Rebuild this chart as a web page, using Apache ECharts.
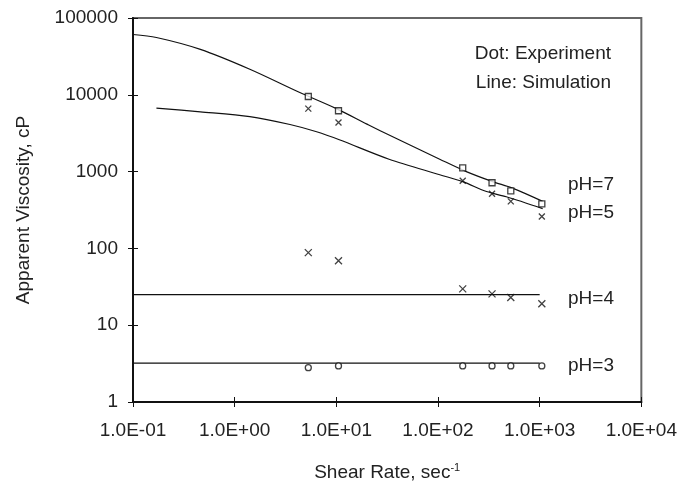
<!DOCTYPE html>
<html>
<head>
<meta charset="utf-8">
<script src="https://cdn.jsdelivr.net/npm/echarts@6/dist/echarts.min.js"></script>
<style>
  html, body { margin: 0; padding: 0; background: #fff; }
  #chart { width: 680px; height: 487px; }
</style>
</head>
<body>
<div id="chart"></div>
<script>
// experimental shear rates (sec^-1)
const shearExp = [5.3, 10.5, 175, 340, 520, 1050];
// experimental viscosities (cP)
const expPH7 = [9500, 6200, 1120, 716, 560, 380];
const expPH5 = [6600, 4350, 760, 515, 410, 260];
const expPH4 = [88, 69, 29.7, 25.6, 23, 19];
const expPH3 = [2.8, 2.95, 2.95, 2.95, 2.95, 2.95];

// simulation curves
const simPH7x = [0.1, 0.17, 0.46, 1.41, 4.37, 10, 20, 29, 104, 190, 345, 540, 1070];
const simPH7y = [61000, 55700, 39000, 21500, 10700, 6600, 4150, 3250, 1450, 1000, 740, 610, 410];
const simPH5x = [0.17, 0.46, 1.41, 3.5, 6.4, 10.7, 33, 104, 175, 300, 470, 1070];
const simPH5y = [6700, 6000, 5200, 4100, 3300, 2600, 1450, 910, 740, 550, 470, 330];
const simPH4x = [0.1, 1000];
const simPH4y = [25, 25];
const simPH3x = [0.1, 1000];
const simPH3y = [3.2, 3.2];

const phLabels = ['pH=7', 'pH=5', 'pH=4', 'pH=3'];
const phLabelY = [185, 213, 299, 366];

const zip = (xs, ys) => xs.map((x, i) => [x, ys[i]]);

const crossPath = 'path://M0,0L10,10M10,0L0,10';
const FONT = '19px Liberation Sans, Arial, sans-serif';

function sciLabel(v) {
    const exp = Math.round(Math.log10(v));
    const sign = exp < 0 ? '-' : '+';
    return '1.0E' + sign + String(Math.abs(exp)).padStart(2, '0');
}

function simSeries(xs, ys) {
    return {
        type: 'line', data: zip(xs, ys), smooth: 0.3, symbol: 'none',
        lineStyle: { color: '#111', width: 1.2 }, z: 3
    };
}

function expSeries(ys, symbol, size) {
    return {
        type: 'scatter', data: zip(shearExp, ys), symbol: symbol, symbolSize: size,
        itemStyle: { color: symbol === crossPath ? 'transparent' : '#fff', borderColor: '#111', borderWidth: 1.3 },
        z: 4
    };
}

const chart = echarts.init(document.getElementById('chart'));

const textStyle = { fontFamily: 'Liberation Sans, Arial, sans-serif', fontSize: 19, color: '#222' };

const option = {
    animation: false,
    backgroundColor: '#fff',
    grid: { left: 133, right: 38, top: 18, bottom: 85, show: true, borderColor: '#666', borderWidth: 2 },
    xAxis: [{
        type: 'log', logBase: 10, min: 0.1, max: 10000, interval: 1,
        name: 'Shear Rate, sec{sup|-1}', nameLocation: 'middle', nameGap: 60,
        nameTextStyle: Object.assign({}, textStyle, { rich: { sup: { fontSize: 11, verticalAlign: 'top', padding: [0, 0, 10, 0], color: '#222', fontFamily: 'Liberation Sans, Arial, sans-serif' } } }),
        axisLine: { lineStyle: { color: '#111', width: 2 } },
        axisTick: { length: 5, lineStyle: { color: '#111', width: 1 } },
        minorTick: { show: false },
        splitLine: { show: false },
        axisLabel: Object.assign({}, textStyle, { margin: 19, formatter: sciLabel })
    }, {
        type: 'log', logBase: 10, min: 0.1, max: 10000, interval: 1, position: 'bottom',
        axisLine: { show: false },
        axisTick: { inside: true, length: 5, lineStyle: { color: '#111', width: 1 } },
        axisLabel: { show: false }, splitLine: { show: false }
    }],
    yAxis: [{
        type: 'log', logBase: 10, min: 1, max: 100000, interval: 1,
        name: 'Apparent Viscosity, cP', nameLocation: 'middle', nameGap: 100,
        nameTextStyle: textStyle,
        axisLine: { lineStyle: { color: '#111', width: 2 } },
        axisTick: { length: 5, lineStyle: { color: '#111', width: 1 } },
        splitLine: { show: false },
        axisLabel: Object.assign({}, textStyle, { margin: 15, formatter: v => String(Math.round(v)) })
    }, {
        type: 'log', logBase: 10, min: 1, max: 100000, interval: 1, position: 'left',
        axisLine: { show: false },
        axisTick: { inside: true, length: 5, lineStyle: { color: '#111', width: 1 } },
        axisLabel: { show: false }, splitLine: { show: false }
    }],
    series: [
        simSeries(simPH7x, simPH7y),
        simSeries(simPH5x, simPH5y),
        simSeries(simPH4x, simPH4y),
        simSeries(simPH3x, simPH3y),
        expSeries(expPH7, 'rect', 6),
        expSeries(expPH5, crossPath, 6),
        expSeries(expPH4, crossPath, 7),
        expSeries(expPH3, 'circle', 6)
    ],
    graphic: [
        { type: 'text', x: 611, y: 54, style: { text: 'Dot: Experiment', fill: '#222', font: FONT, textAlign: 'right', textVerticalAlign: 'middle' } },
        { type: 'text', x: 611, y: 83, style: { text: 'Line: Simulation', fill: '#222', font: FONT, textAlign: 'right', textVerticalAlign: 'middle' } }
    ].concat(phLabels.map((t, i) => ({
        type: 'text', x: 568, y: phLabelY[i],
        style: { text: t, fill: '#222', font: FONT, textAlign: 'left', textVerticalAlign: 'middle' }
    })))
};

chart.setOption(option);
</script>
</body>
</html>
